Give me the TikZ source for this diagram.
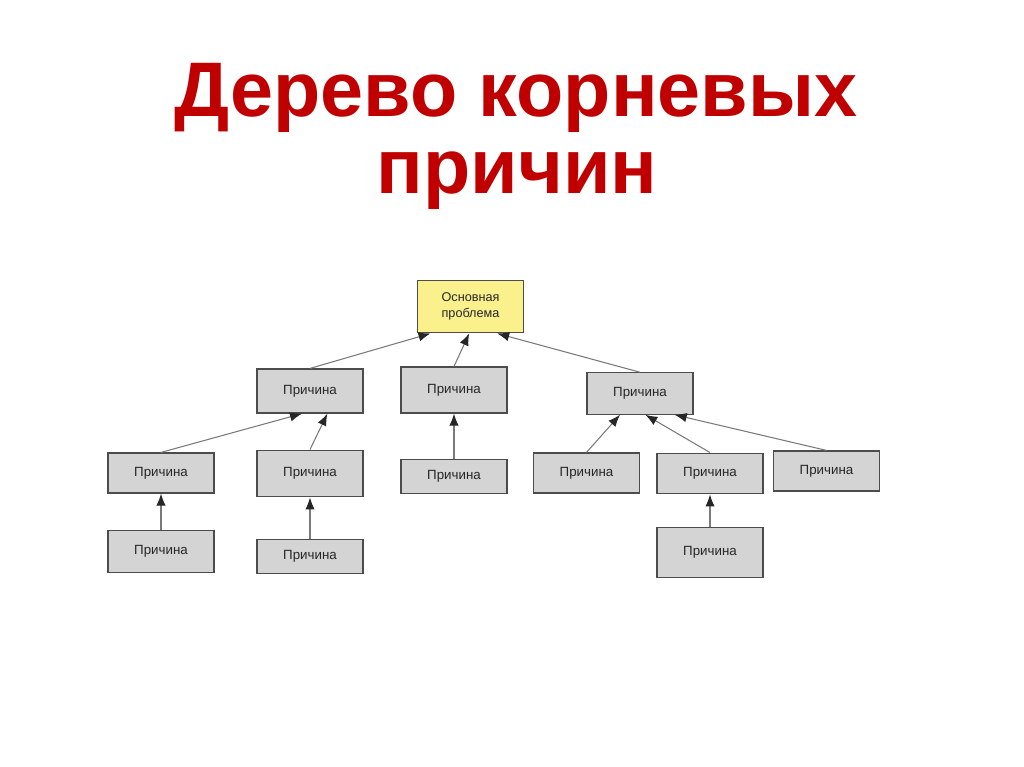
\documentclass[tikz,border=0pt]{standalone}
\usepackage{fontspec}
\setmainfont{Liberation Sans}
\usetikzlibrary{arrows.meta,calc}
\definecolor{titlered}{HTML}{C00000}
\definecolor{boxgrey}{HTML}{D4D4D4}
\definecolor{rootyellow}{HTML}{FAF08C}
\definecolor{linegrey}{HTML}{7A7A7A}
\begin{document}
\begin{tikzpicture}[x=0.75pt,y=-0.75pt,
  cause/.style={draw=black!70,line width=0.9pt,fill=boxgrey,minimum width=79.5pt,minimum height=31pt,inner sep=0pt,font=\fontsize{10}{12}\selectfont,text=black!85},
  rootbox/.style={cause,fill=rootyellow,minimum height=39.5pt,align=center,font=\fontsize{9.5}{12}\selectfont},
  link/.style={draw=linegrey,line width=0.8pt,arrows={-{Latex[length=9pt,width=7pt,color=black!85]}}},
  title/.style={text=titlered,font=\bfseries\fontsize{58}{58}\selectfont,inner sep=0pt}]
\useasboundingbox (0,0) rectangle (1024,767);
\node[title,anchor=base] (t1) at (516,117) {Дерево корневых};
\node[title,anchor=base] (t2) at (517,193) {причин};
% nodes
\node[rootbox] (root) at (470.5,306.5) {Основная\\проблема};
\node[cause,minimum height=33pt] (a) at (310,391) {Причина};
\node[cause,minimum height=34.5pt] (b) at (454,390) {Причина};
\node[cause] (c) at (640,393.5) {Причина};
\node[cause,minimum height=30pt] (a1) at (161,473) {Причина};
\node[cause,minimum height=35pt] (a2) at (310,473.5) {Причина};
\node[cause,minimum height=25pt] (b1) at (454,476.5) {Причина};
\node[cause,minimum height=30pt] (c1) at (586.5,473) {Причина};
\node[cause,minimum height=30.5pt] (c2) at (710,473.5) {Причина};
\node[cause,minimum height=30pt] (c3) at (826.5,471) {Причина};
\node[cause,minimum height=32pt] (a11) at (161,551.5) {Причина};
\node[cause,minimum height=25pt] (a21) at (310,556.5) {Причина};
\node[cause,minimum height=38pt] (c21) at (710,552.5) {Причина};
% connectors
\draw[link] (a.north) -- ([xshift=-30pt]root.south);
\draw[link] (b.north) -- ([xshift=-1pt]root.south);
\draw[link] (c.north) -- ([xshift=20pt]root.south);
\draw[link] (a1.north) -- ([xshift=-6pt]a.south);
\draw[link] (a2.north) -- ([xshift=13pt]a.south);
\draw[link] (b1.north) -- (b.south);
\draw[link] (c1.north) -- ([xshift=-15pt]c.south);
\draw[link] (c2.north) -- ([xshift=4pt]c.south);
\draw[link] (c3.north) -- ([xshift=26pt]c.south);
\draw[link] (a11.north) -- (a1.south);
\draw[link] (a21.north) -- (a2.south);
\draw[link] (c21.north) -- (c2.south);
\end{tikzpicture}
\end{document}
